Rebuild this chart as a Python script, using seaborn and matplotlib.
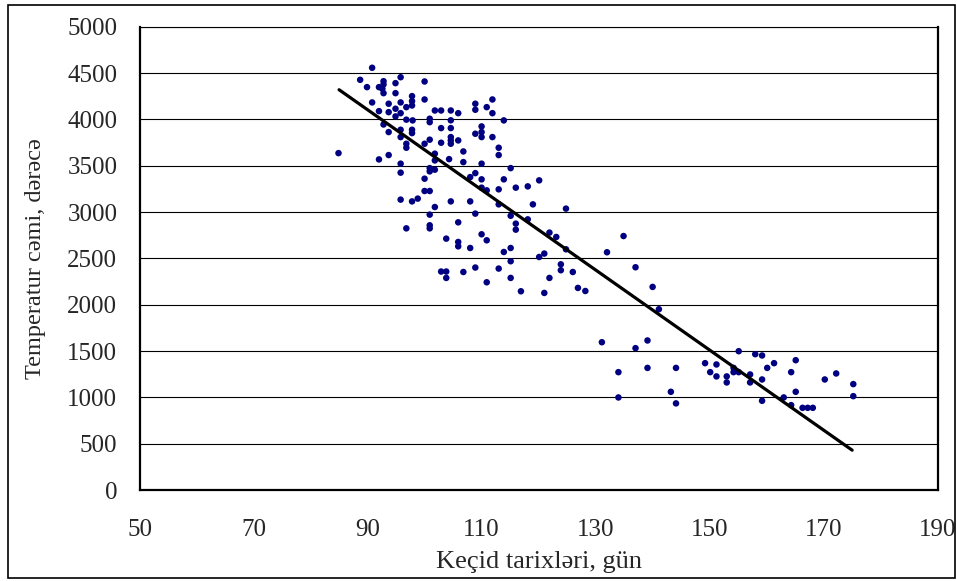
import matplotlib
matplotlib.use("Agg")
import matplotlib.pyplot as plt
import seaborn as sns
import pandas as pd
from matplotlib.patches import Rectangle

# transition dates (days) vs. accumulated temperature (degrees)
x_days = [
    90.8, 88.7, 89.9, 92.8, 92.8, 92.0, 92.6, 95.8, 94.9, 100.0, 92.8, 94.9, 90.8, 97.8, 97.8,
    97.8, 100.0, 95.8, 93.7, 94.9, 96.8, 92.0, 93.7, 95.8, 94.9, 96.8, 97.9, 100.9, 100.9, 101.8,
    102.9, 92.8, 93.7, 95.8, 95.8, 97.8, 97.8, 102.9, 100.9, 102.9, 96.8, 96.8, 100.0, 84.9, 93.7,
    92.0, 101.8, 101.8, 95.8, 100.9, 100.9, 101.8, 95.8, 100.0,
    104.6, 104.6, 104.6, 104.6, 104.6, 104.6, 104.3, 105.9, 105.9,
    108.9, 108.9, 110.9, 111.9, 111.9, 113.9, 108.9, 110.0, 110.0, 110.0, 111.9, 106.8, 106.8,
    110.0, 113.0, 113.0, 115.1, 108.9, 108.0, 110.0, 113.9, 120.1,
    100.0, 100.9, 95.8, 97.8, 98.8, 101.8, 104.6, 100.9, 100.9, 100.9, 96.8, 103.8, 102.9, 103.8,
    103.8,
    110.0, 110.9, 113.0, 116.0, 118.1, 108.0, 113.0, 119.0, 124.8, 108.9, 115.1, 118.1, 116.0,
    116.0, 105.9, 110.0, 110.9, 105.9, 105.9, 108.0, 113.9, 115.1, 121.9, 123.1, 124.8, 121.0,
    120.1, 115.1, 123.9, 123.9, 126.0, 106.8, 108.9, 113.0, 115.1, 121.9, 110.9, 116.9, 121.0,
    126.9, 128.2,
    134.9, 132.0, 137.0, 140.0, 141.1, 131.1, 137.0, 139.1, 134.0, 139.1, 144.1, 134.0, 143.2,
    144.1, 149.2, 150.1, 151.2, 151.2, 153.0, 153.0, 155.1, 154.2, 154.2, 155.1, 157.1, 157.1,
    158.0, 159.2, 159.2, 159.2, 160.1, 161.3, 163.0, 164.3, 164.3, 165.1, 165.1, 166.3, 167.2,
    168.1, 170.2, 172.2, 175.2, 175.2,
]
temp_sum = [
    4557, 4427, 4348, 4412, 4377, 4348, 4330, 4455, 4391, 4409, 4283, 4283, 4183, 4251, 4197,
    4150, 4215, 4183, 4169, 4115, 4132, 4089, 4078, 4067, 4032, 3997, 3989, 4007, 3970, 4096,
    4096, 3945, 3863, 3888, 3809, 3888, 3852, 3906, 3781, 3748, 3737, 3694, 3737, 3636, 3615,
    3568, 3630, 3557, 3522, 3474, 3439, 3457, 3425, 3360,
    4096, 3990, 3906, 3809, 3773, 3737, 3571, 4067, 3773,
    4169, 4104, 4132, 4215, 4067, 3989, 3845, 3924, 3863, 3809, 3809, 3654, 3539,
    3522, 3694, 3615, 3474, 3420, 3377, 3353, 3353, 3342,
    3227, 3227, 3134, 3115, 3145, 3054, 3115, 2972, 2857, 2824, 2824, 2713, 2358, 2358,
    2289,
    3263, 3234, 3245, 3263, 3277, 3115, 3083, 3083, 3037, 2983, 2960, 2921, 2875,
    2810, 2889, 2760, 2695, 2677, 2630, 2612, 2569, 2612, 2778, 2731, 2598, 2552,
    2515, 2469, 2436, 2372, 2353, 2353, 2401, 2390, 2289, 2289, 2242, 2145, 2127,
    2181, 2148,
    2741, 2566, 2404, 2192, 1951, 1595, 1531, 1614, 1272, 1318, 1318, 999, 1060,
    935, 1369, 1272, 1226, 1355, 1226, 1161, 1498, 1318, 1272, 1272, 1247, 1161,
    1466, 1452, 1193, 963, 1318, 1369, 999, 916, 1272, 1401, 1060, 887, 887,
    887, 1193, 1258, 1143, 1013,
]

# trend line end points
trend_x = [85, 175]
trend_y = [4320, 430]

x_ticks = [50, 70, 90, 110, 130, 150, 170, 190]
y_ticks = list(range(0, 5001, 500))

df = pd.DataFrame({"days": x_days, "temp": temp_sum})

sns.set_theme(style="white")
plt.rcParams["font.family"] = ["Liberation Serif", "DejaVu Serif"]

fig = plt.figure(figsize=(9.57, 5.81), dpi=100)
ax = fig.add_axes([0.1458, 0.1566, 0.834, 0.7974])

# horizontal grid
for yv in y_ticks:
    ax.axhline(yv, color="black", lw=0.8, zorder=0)

sns.scatterplot(data=df, x="days", y="temp", ax=ax, color="#000080",
                s=22, edgecolor="none", zorder=3)
sns.lineplot(x=trend_x, y=trend_y, ax=ax, color="black", lw=2.3, zorder=4)

ax.set_xlim(50, 190)
ax.set_ylim(0, 5000)
ax.set_xticks(x_ticks)
ax.set_yticks(y_ticks)
ax.tick_params(axis="both", direction="in", length=6, width=1, color="black",
               labelsize=18)
ax.tick_params(axis="x", pad=21)
ax.tick_params(axis="y", pad=16)

for side in ["left", "bottom", "right"]:
    ax.spines[side].set_linewidth(1.6)
    ax.spines[side].set_color("black")
ax.spines["top"].set_linewidth(0.8)
ax.spines["top"].set_color("black")

ax.set_xlabel("Keçid tarixləri, gün", fontsize=19, labelpad=7)
ax.set_ylabel("Temperatur cəmi, dərəcə", fontsize=17.5, labelpad=15)

# outer chart frame
fig.patches.append(Rectangle((0.008, 0.005), 0.99, 0.987, transform=fig.transFigure,
                             fill=False, edgecolor="black", lw=1.2))

fig.savefig("out.png", dpi=100)
